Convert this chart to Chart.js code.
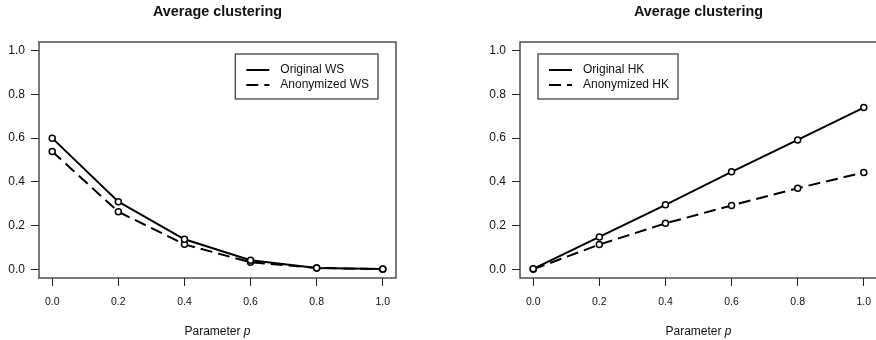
<!DOCTYPE html>
<html>
<head>
<meta charset="utf-8">
<title>Average clustering</title>
<script src="https://cdn.jsdelivr.net/npm/chart.js@4.4.1/dist/chart.umd.min.js"></script>
<style>
  html, body { margin: 0; padding: 0; background: #fff; }
  #wrap { position: relative; width: 876px; height: 340px; overflow: hidden; }
  .panel { position: absolute; top: 0; }
  #left { left: 0; }
  #right { left: 440px; }
</style>
</head>
<body>
<div id="wrap">
  <canvas id="left" class="panel" width="438" height="340"></canvas>
  <canvas id="right" class="panel" width="452" height="340"></canvas>
</div>
<script>
// rewiring probability p
const pValues = [0, 0.2, 0.4, 0.6, 0.8, 1.0];

// Watts-Strogatz
const originalWS = [0.600, 0.309, 0.137, 0.041, 0.006, 0.001];
const anonymizedWS = [0.539, 0.263, 0.114, 0.032, 0.006, 0.000];

// Holme-Kim
const originalHK = [0.002, 0.148, 0.295, 0.446, 0.592, 0.740];
const anonymizedHK = [0.000, 0.113, 0.210, 0.292, 0.371, 0.443];

const axisTicks = [0, 0.2, 0.4, 0.6, 0.8, 1.0];

const FONT = "'Liberation Sans', Arial, Helvetica, sans-serif";
const INK = '#111';

const toPoints = ys => ys.map((y, i) => ({ x: pValues[i], y: y }));

// frame, title, x label and boxed legend, R style
const decor = {
  id: 'decor',
  afterDatasetsDraw(chart, args, opts) {
    const { ctx, chartArea: a } = chart;
    ctx.save();

    ctx.strokeStyle = '#333';
    ctx.lineWidth = 1.3;
    ctx.strokeRect(a.left, a.top, a.right - a.left, a.bottom - a.top);

    const cx = (a.left + a.right) / 2;
    ctx.fillStyle = INK;
    ctx.textBaseline = 'middle';
    ctx.textAlign = 'center';
    ctx.font = 'bold 14.4px ' + FONT;
    ctx.fillText(opts.title, cx, 12.5);

    // "Parameter p" with italic p
    ctx.font = '12px ' + FONT;
    const w1 = ctx.measureText('Parameter ').width;
    ctx.font = 'italic 12px ' + FONT;
    const w2 = ctx.measureText('p').width;
    let x0 = cx - (w1 + w2) / 2;
    ctx.textAlign = 'left';
    ctx.font = '12px ' + FONT;
    ctx.fillText('Parameter ', x0, 332);
    ctx.font = 'italic 12px ' + FONT;
    ctx.fillText('p', x0 + w1, 332);

    // legend
    ctx.font = '12px ' + FONT;
    const sets = chart.data.datasets;
    const textW = Math.max(...sets.map(d => ctx.measureText(d.label).width));
    const bw = 45 + textW + 9, bh = 45;
    const bx = opts.legendSide === 'right' ? a.right - 18 - bw : a.left + 18;
    const by = a.top + 12;
    ctx.fillStyle = '#fff';
    ctx.fillRect(bx, by, bw, bh);
    ctx.strokeStyle = '#333';
    ctx.lineWidth = 1.2;
    ctx.strokeRect(bx, by, bw, bh);
    sets.forEach((d, i) => {
      const ly = by + 16 + i * 15;
      ctx.strokeStyle = '#000';
      ctx.lineWidth = 2;
      ctx.setLineDash(d.borderDash || []);
      ctx.beginPath();
      ctx.moveTo(bx + 11, ly);
      ctx.lineTo(bx + 34, ly);
      ctx.stroke();
      ctx.setLineDash([]);
      ctx.fillStyle = INK;
      ctx.fillText(d.label, bx + 45, ly);
    });
    ctx.restore();
  }
};

function series(label, ys, dashed) {
  return {
    label: label,
    data: toPoints(ys),
    borderColor: '#000',
    borderWidth: 2,
    borderDash: dashed ? [12, 6] : [],
    pointRadius: 3,
    pointBorderWidth: 1.5,
    pointBorderColor: '#000',
    pointBackgroundColor: '#fff',
    tension: 0
  };
}

function makePanel(id, title, sets, legendSide, padLeft, padRight) {
  const setTicks = s => { s.ticks = axisTicks.map(v => ({ value: v })); };
  const tickGrid = { display: true, drawOnChartArea: false, drawTicks: true, tickLength: 8, color: '#222', lineWidth: 1 };
  return new Chart(document.getElementById(id), {
    type: 'line',
    data: { datasets: sets },
    plugins: [decor],
    options: {
      responsive: false,
      animation: false,
      layout: { padding: { top: 42, left: padLeft, right: padRight, bottom: 0 } },
      scales: {
        x: {
          type: 'linear',
          min: -0.04,
          max: 1.04,
          afterBuildTicks: setTicks,
          afterFit: s => { s.height = 62; },
          grid: tickGrid,
          border: { display: false },
          ticks: {
            padding: 10,
            color: INK,
            font: { family: FONT, size: 10.5 },
            maxRotation: 0,
            callback: v => v.toFixed(1)
          }
        },
        y: {
          min: -0.04,
          max: 1.04,
          afterBuildTicks: setTicks,
          afterFit: s => { s.width = 39; },
          grid: tickGrid,
          border: { display: false },
          ticks: {
            padding: 6,
            color: INK,
            font: { family: FONT, size: 12 },
            callback: v => v.toFixed(1)
          }
        }
      },
      plugins: {
        legend: { display: false },
        tooltip: { enabled: false },
        decor: { title: title, legendSide: legendSide }
      }
    }
  });
}

makePanel('left', 'Average clustering', [
  series('Original WS', originalWS, false),
  series('Anonymized WS', anonymizedWS, true)
], 'right', 0, 42);

// right panel frame runs just past the page edge
makePanel('right', 'Average clustering', [
  series('Original HK', originalHK, false),
  series('Anonymized HK', anonymizedHK, true)
], 'left', 41, 15);
</script>
</body>
</html>
